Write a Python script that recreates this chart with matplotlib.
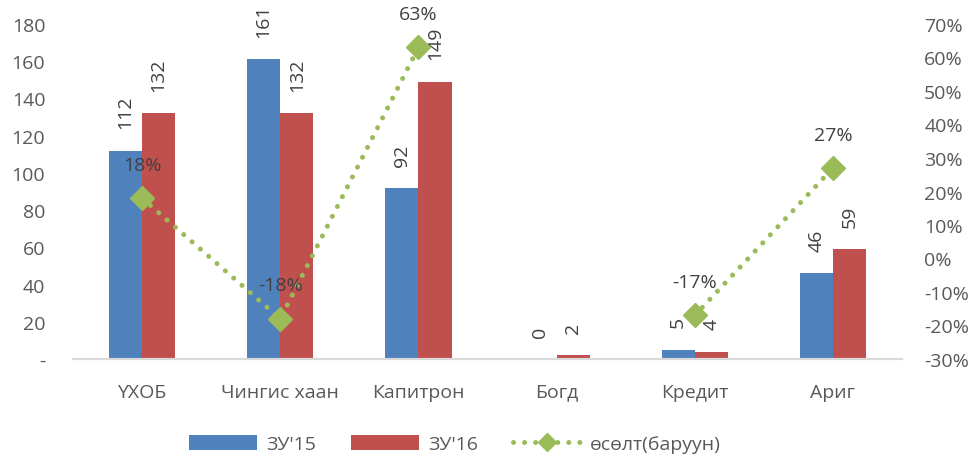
import numpy as np
import matplotlib.pyplot as plt
from matplotlib.ticker import FuncFormatter

plt.rcParams['font.family'] = ['Open Sans', 'DejaVu Sans']

categories = ['ҮХОБ', 'Чингис хаан', 'Капитрон', 'Богд', 'Кредит', 'Ариг']
zu15 = [112, 161, 92, 0, 5, 46]
zu16 = [132, 132, 149, 2, 4, 59]
growth = [0.18, -0.18, 0.63, np.nan, -0.17, 0.27]
growth_labels = ['18%', '-18%', '63%', '', '-17%', '27%']

blue = '#4F81BD'
red = '#C0504D'
green = '#9BBB59'
txt = '#595959'

fig = plt.figure(figsize=(9.73, 4.56), dpi=100)
ax = fig.add_axes([73 / 973, 96 / 456, 829 / 973, 335 / 456])
ax2 = ax.twinx()

x = np.arange(len(categories))
w = 0.24
b1 = ax.bar(x - w / 2, zu15, w, color=blue, label="ЗУ'15")
b2 = ax.bar(x + w / 2, zu16, w, color=red, label="ЗУ'16")

for bars, vals in ((b1, zu15), (b2, zu16)):
    for rect, v in zip(bars, vals):
        ax.annotate(str(v), (rect.get_x() + rect.get_width() / 2, v),
                    xytext=(0, 16), textcoords='offset points',
                    ha='center', va='bottom', rotation=90,
                    fontsize=14, color='#404040')

ax.set_xlim(-0.5, len(categories) - 0.5)
ax.set_ylim(0, 180)
ax.set_yticks(range(0, 181, 20))
ax.yaxis.set_major_formatter(FuncFormatter(lambda v, p: '-' if v == 0 else f'{v:.0f}'))
ax.set_xticks(x)
ax.set_xticklabels(categories)
ax.tick_params(axis='x', length=0, pad=17, labelsize=14, labelcolor=txt)
ax.tick_params(axis='y', length=0, pad=20, labelsize=14, labelcolor=txt)

ax2.plot(x, growth, color=green, linestyle=(0, (0.01, 2.2)), linewidth=3.6,
         dash_capstyle='round', marker='D', markersize=12,
         markerfacecolor=green, markeredgecolor=green, label='өсөлт(баруун)')
for xi, g, lab in zip(x, growth, growth_labels):
    if lab:
        ax2.annotate(lab, (xi, g), xytext=(0, 24), textcoords='offset points',
                     ha='center', va='center', fontsize=14, color='#404040')
ax2.set_ylim(-0.3, 0.7)
ax2.set_yticks(np.arange(-0.3, 0.71, 0.1))
ax2.yaxis.set_major_formatter(FuncFormatter(lambda v, p: f'{round(v * 100):.0f}%'))
ax2.tick_params(axis='y', length=0, pad=16, labelsize=14, labelcolor=txt)

for a in (ax, ax2):
    for s in ('top', 'left', 'right'):
        a.spines[s].set_visible(False)
    a.spines['bottom'].set_color('#D9D9D9')
    a.spines['bottom'].set_linewidth(1.5)

h1, l1 = ax.get_legend_handles_labels()
h2, l2 = ax2.get_legend_handles_labels()
fig.legend(h1 + h2, l1 + l2, loc='center', bbox_to_anchor=(455 / 973, 1 - 445 / 456),
           ncol=3, frameon=False, fontsize=14, labelcolor=txt, markerscale=0.8,
           handlelength=3.5, handleheight=0.85, columnspacing=1.8, handletextpad=0.45)

fig.savefig('out.png', dpi=100)
